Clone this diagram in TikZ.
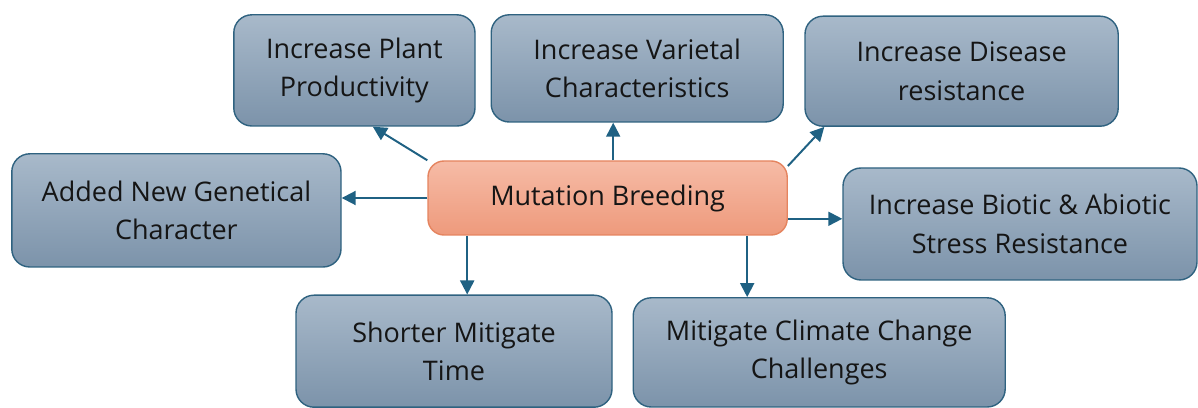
\documentclass[tikz,border=0pt]{standalone}
\usepackage{fontspec}
\setmainfont{Open Sans}[Ligatures=NoCommon]
\usepackage{xcolor}
\usetikzlibrary{arrows.meta,shapes,calc,positioning}
\definecolor{boxtop}{HTML}{A8B9CA}
\definecolor{boxbot}{HTML}{7C93AA}
\definecolor{boxline}{HTML}{2F6280}
\definecolor{midtop}{HTML}{F6BBA6}
\definecolor{midbot}{HTML}{EE9A7C}
\definecolor{midline}{HTML}{E5845F}
\definecolor{arrowcol}{HTML}{1F6183}
\definecolor{txt}{HTML}{151515}

\begin{document}
\begin{tikzpicture}
			\tikzstyle{every node}=[font=\fontsize{19.2}{27.3}\selectfont, text=txt]
			\tikzstyle{goalbox}=[rectangle, rounded corners=0.45cm, draw=boxline, line width=1pt, top color=boxtop, bottom color=boxbot, align=center, inner sep=0pt]
			\tikzstyle{mainbox}=[rectangle, rounded corners=0.4cm, draw=midline, line width=1pt, top color=midtop, bottom color=midbot, align=center, inner sep=0pt]
			\tikzstyle{link}=[line width=1.4pt, draw=arrowcol, -{Triangle[length=3.5mm, width=3.5mm]}]
			\useasboundingbox (0,0) rectangle (29.95,-10.2);
			\node [mainbox, minimum width=8.98cm, minimum height=1.85cm] (breeding) at (15.19,-4.95) {Mutation Breeding};
			\node [goalbox, minimum width=6.03cm, minimum height=2.78cm] (plant) at (8.86,-1.76) {Increase Plant\\Productivity};
			\node [goalbox, minimum width=7.3cm, minimum height=2.68cm] (varietal) at (15.93,-1.71) {Increase Varietal\\Characteristics};
			\node [goalbox, minimum width=7.83cm, minimum height=2.75cm] (disease) at (24.04,-1.78) {Increase Disease\\resistance};
			\node [goalbox, minimum width=8.23cm, minimum height=2.83cm] (added) at (4.41,-5.26) {Added New Genetical\\Character};
			\node [goalbox, minimum width=8.85cm, minimum height=2.8cm] (stress) at (25.5,-5.6) {Increase Biotic \& Abiotic\\Stress Resistance};
			\node [goalbox, minimum width=7.9cm, minimum height=2.8cm] (shorter) at (11.35,-8.78) {Shorter Mitigate\\Time};
			\node [goalbox, minimum width=9.3cm, minimum height=2.73cm] (climate) at (20.48,-8.81) {Mitigate Climate Change\\Challenges};
			\draw [link] (breeding.north west) -- ([xshift=0.46cm]plant.south);
			\draw [link] ([xshift=0.14cm]breeding.north) -- ([xshift=0.14cm]breeding.north |- varietal.south);
			\draw [link] ([yshift=0.8cm]breeding.east) -- ([xshift=0.5cm]disease.south west);
			\draw [link] (breeding.west) -- (breeding.west -| added.east);
			\draw [link] ([yshift=-0.52cm]breeding.east) -- ([yshift=-0.52cm]breeding.east -| stress.west);
			\draw [link] ([xshift=-3.51cm]breeding.south) -- ([xshift=-3.51cm]breeding.south |- shorter.north);
			\draw [link] ([xshift=3.49cm]breeding.south) -- ([xshift=3.49cm]breeding.south |- climate.north);
	\end{tikzpicture}
\end{document}
